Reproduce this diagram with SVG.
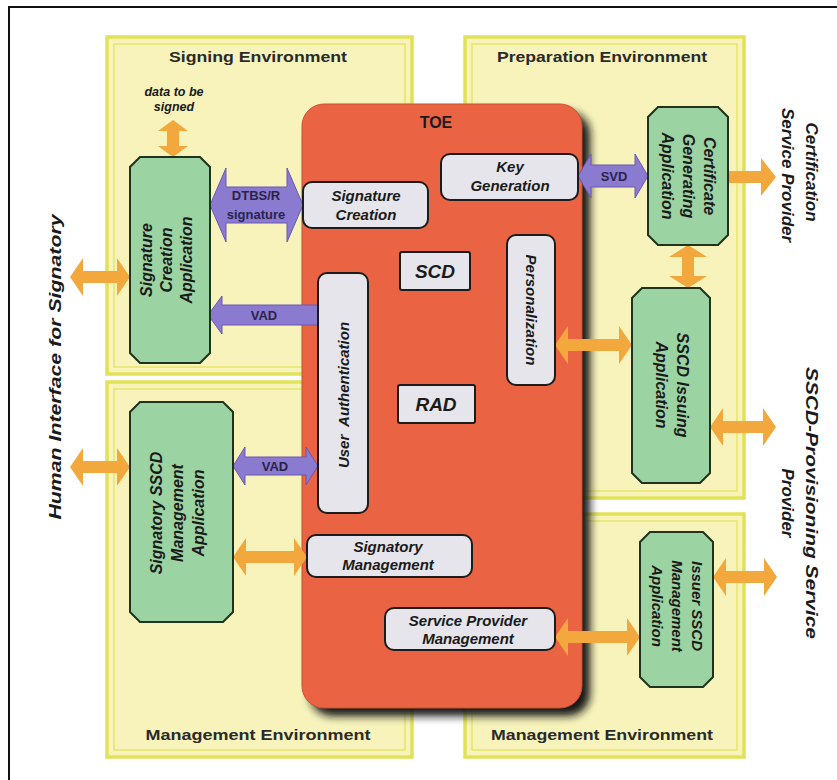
<svg xmlns="http://www.w3.org/2000/svg" width="837" height="780" viewBox="0 0 837 780">
<defs>
<filter id="sh" x="-10%" y="-10%" width="130%" height="130%"><feGaussianBlur stdDeviation="4"/></filter>
</defs>
<style>
.env{fill:#f7f3bb;stroke:#e2e25a;stroke-width:3.5}
.envin{fill:none;stroke:#e6e66a;stroke-width:1.5}
.title{font-family:"Liberation Sans",Arial,sans-serif;font-weight:bold;font-size:15px;fill:#2a2a2a;text-anchor:middle}
.toe{fill:#ea6443;stroke:#c9502f;stroke-width:1}
.gray{fill:#e5e5eb;stroke:#1c1c1c;stroke-width:2}
.green{fill:#9bd3a2;stroke:#1f331f;stroke-width:2}
.t{font-family:"Liberation Sans",Arial,sans-serif;font-weight:bold;font-style:italic;fill:#1a1a1a;text-anchor:middle;dominant-baseline:central}
.n15{font-size:15px}
.n16{font-size:16px}
.big{font-size:19px}
.out{font-size:17px}
.orange{fill:#f2a83c}
.purple{fill:#8a7ad0;stroke:#6a58b4;stroke-width:1}
.al{font-family:"Liberation Sans",Arial,sans-serif;font-weight:bold;font-size:13px;fill:#2a2448;text-anchor:middle;dominant-baseline:central}
</style>
<rect x="0" y="0" width="837" height="780" fill="#ffffff"/>
<rect x="9" y="7" width="840" height="790" fill="none" stroke="#111" stroke-width="2"/>

<g id="env-signing">
<rect class="env" x="107" y="37" width="305" height="337"/>
<rect class="envin" x="114" y="44" width="291" height="323"/>
<text class="title" x="258" y="62" textLength="178" lengthAdjust="spacingAndGlyphs">Signing Environment</text>
</g>
<g id="env-preparation">
<rect class="env" x="465" y="37" width="279" height="461"/>
<rect class="envin" x="472" y="44" width="265" height="447"/>
<text class="title" x="602" y="62" textLength="210" lengthAdjust="spacingAndGlyphs">Preparation Environment</text>
</g>
<g id="env-management-left">
<rect class="env" x="107" y="382" width="305" height="375"/>
<rect class="envin" x="114" y="389" width="291" height="361"/>
<text class="title" x="258" y="740" textLength="225" lengthAdjust="spacingAndGlyphs">Management Environment</text>
</g>
<g id="env-management-right">
<rect class="env" x="465" y="514" width="279" height="243"/>
<rect class="envin" x="472" y="521" width="265" height="229"/>
<text class="title" x="602" y="740" textLength="222" lengthAdjust="spacingAndGlyphs">Management Environment</text>
</g>

<g id="toe">
<rect x="310" y="112" width="280" height="604" rx="22" fill="#151515" filter="url(#sh)"/>
<rect class="toe" x="302" y="104" width="280" height="604" rx="22"/>
<text x="436" y="122" font-family="Liberation Sans,Arial,sans-serif" font-weight="bold" font-size="16" fill="#1a1a1a" text-anchor="middle" dominant-baseline="central">TOE</text>
</g>

<g id="connectors">
<polygon class="orange" points="173,120 188,131 179,131 179,146 188,146 173,157 158,146 167,146 167,131 158,131"/>
<polygon class="orange" points="70,277 83,258 83,271 117,271 117,258 130,277 117,296 117,283 83,283 83,296"/>
<polygon class="orange" points="70,467 83,448 83,461 117,461 117,448 130,467 117,486 117,473 83,473 83,486"/>
<polygon class="orange" points="233,557 246,538 246,551 294,551 294,538 307,557 294,576 294,563 246,563 246,576"/>
<polygon class="orange" points="728,171 761,171 761,158 776,177 761,196 761,183 728,183"/>
<polygon class="orange" points="688,245 707,257 694,257 694,276 707,276 688,288 669,276 682,276 682,257 669,257"/>
<polygon class="orange" points="555,345 568,326 568,339 619,339 619,326 632,345 619,364 619,351 568,351 568,364"/>
<polygon class="orange" points="710,427 723,408 723,421 763,421 763,408 776,427 763,446 763,433 723,433 723,446"/>
<polygon class="orange" points="713,577 726,558 726,571 764,571 764,558 777,577 764,596 764,583 726,583 726,596"/>
<polygon class="orange" points="555,637 568,618 568,631 627,631 627,618 640,637 627,656 627,643 568,643 568,656"/>
<polygon class="purple" points="210,205 226,168 226,187 287,187 287,168 303,205 287,242 287,223 226,223 226,242"/>
<polygon class="purple" points="208,315 222,296 222,305 318,305 318,325 222,325 222,334"/>
<polygon class="purple" points="233,466 245,447 245,457 306,457 306,447 318,466 306,485 306,475 245,475 245,485"/>
<polygon class="purple" points="578,176 591,154 591,165 635,165 635,154 648,176 635,198 635,187 591,187 591,198"/>
<text class="t" x="174" y="92" font-size="12.5">data to be</text>
<text class="t" x="174" y="107" font-size="12.5">signed</text>
<text class="al" x="256" y="195">DTBS/R</text>
<text class="al" x="256" y="214">signature</text>
<text class="al" x="264" y="315">VAD</text>
<text class="al" x="275" y="466">VAD</text>
<text class="al" x="614" y="176">SVD</text>
</g>

<g id="signature-creation">
<rect class="gray" x="303" y="182" width="125" height="46" rx="9"/>
<text class="t n15" x="366" y="195">Signature</text>
<text class="t n15" x="366" y="214">Creation</text>
</g>
<g id="key-generation">
<rect class="gray" x="441" y="154" width="137" height="46" rx="9"/>
<text class="t n15" x="510" y="166">Key</text>
<text class="t n15" x="510" y="185">Generation</text>
</g>
<g id="scd">
<rect class="gray" x="400" y="252" width="70" height="38" rx="2"/>
<text class="t big" x="435" y="271">SCD</text>
</g>
<g id="rad">
<rect class="gray" x="398" y="385" width="77" height="38" rx="2"/>
<text class="t big" x="436" y="404">RAD</text>
</g>
<g id="personalization">
<rect class="gray" x="507" y="235" width="48" height="150" rx="9"/>
<text class="t n15" transform="translate(531,310) rotate(90)">Personalization</text>
</g>
<g id="user-authentication">
<rect class="gray" x="318" y="273" width="50" height="240" rx="9"/>
<text class="t n15" transform="translate(343,395) rotate(-90)" xml:space="preserve">User  Authentication</text>
</g>
<g id="signatory-management">
<rect class="gray" x="307" y="535" width="165" height="42" rx="9"/>
<text class="t n15" x="388" y="546">Signatory</text>
<text class="t n15" x="388" y="564">Management</text>
</g>
<g id="service-provider-management">
<rect class="gray" x="385" y="608" width="170" height="42" rx="9"/>
<text class="t n15" x="468" y="620">Service Provider</text>
<text class="t n15" x="468" y="638">Management</text>
</g>

<g id="signature-creation-application">
<path class="green" d="M140,157 H200 L210,167 V353 L200,363 H140 L130,353 V167 Z"/>
<text class="t n16" transform="translate(146,260) rotate(-90)">Signature</text>
<text class="t n16" transform="translate(166,260) rotate(-90)">Creation</text>
<text class="t n16" transform="translate(186,260) rotate(-90)">Application</text>
</g>
<g id="signatory-sscd-management-application">
<path class="green" d="M140,402 H223 L233,412 V612 L223,622 H140 L130,612 V412 Z"/>
<text class="t n16" transform="translate(156,513) rotate(-90)">Signatory SSCD</text>
<text class="t n16" transform="translate(177,513) rotate(-90)">Management</text>
<text class="t n16" transform="translate(198,513) rotate(-90)">Application</text>
</g>
<g id="certificate-generating-application">
<path class="green" d="M658,107 H718 L728,117 V235 L718,245 H658 L648,235 V117 Z"/>
<text class="t n16" transform="translate(709,176) rotate(90)">Certificate</text>
<text class="t n16" transform="translate(688,176) rotate(90)">Generating</text>
<text class="t n16" transform="translate(667,176) rotate(90)">Application</text>
</g>
<g id="sscd-issuing-application">
<path class="green" d="M642,288 H700 L710,298 V473 L700,483 H642 L632,473 V298 Z"/>
<text class="t n16" transform="translate(682,385) rotate(90)">SSCD Issuing</text>
<text class="t n16" transform="translate(661,385) rotate(90)">Application</text>
</g>
<g id="issuer-sscd-management-application">
<path class="green" d="M650,532 H703 L713,542 V677 L703,687 H650 L640,677 V542 Z"/>
<text class="t n15" transform="translate(697,606) rotate(90)">Issuer SSCD</text>
<text class="t n15" transform="translate(677,606) rotate(90)">Management</text>
<text class="t n15" transform="translate(657,606) rotate(90)">Application</text>
</g>

<g id="human-interface">
<text class="t out" transform="translate(55,367) rotate(-90)" textLength="305" lengthAdjust="spacingAndGlyphs">Human Interface for Signatory</text>
</g>
<g id="certification-service-provider">
<text class="t out" transform="translate(811,172) rotate(90)">Certification</text>
<text class="t out" transform="translate(787,175) rotate(90)">Service Provider</text>
</g>
<g id="sscd-provisioning-service-provider">
<text class="t out" transform="translate(811,503) rotate(90)" textLength="272" lengthAdjust="spacingAndGlyphs">SSCD-Provisioning Service</text>
<text class="t out" transform="translate(787,503) rotate(90)">Provider</text>
</g>
</svg>
